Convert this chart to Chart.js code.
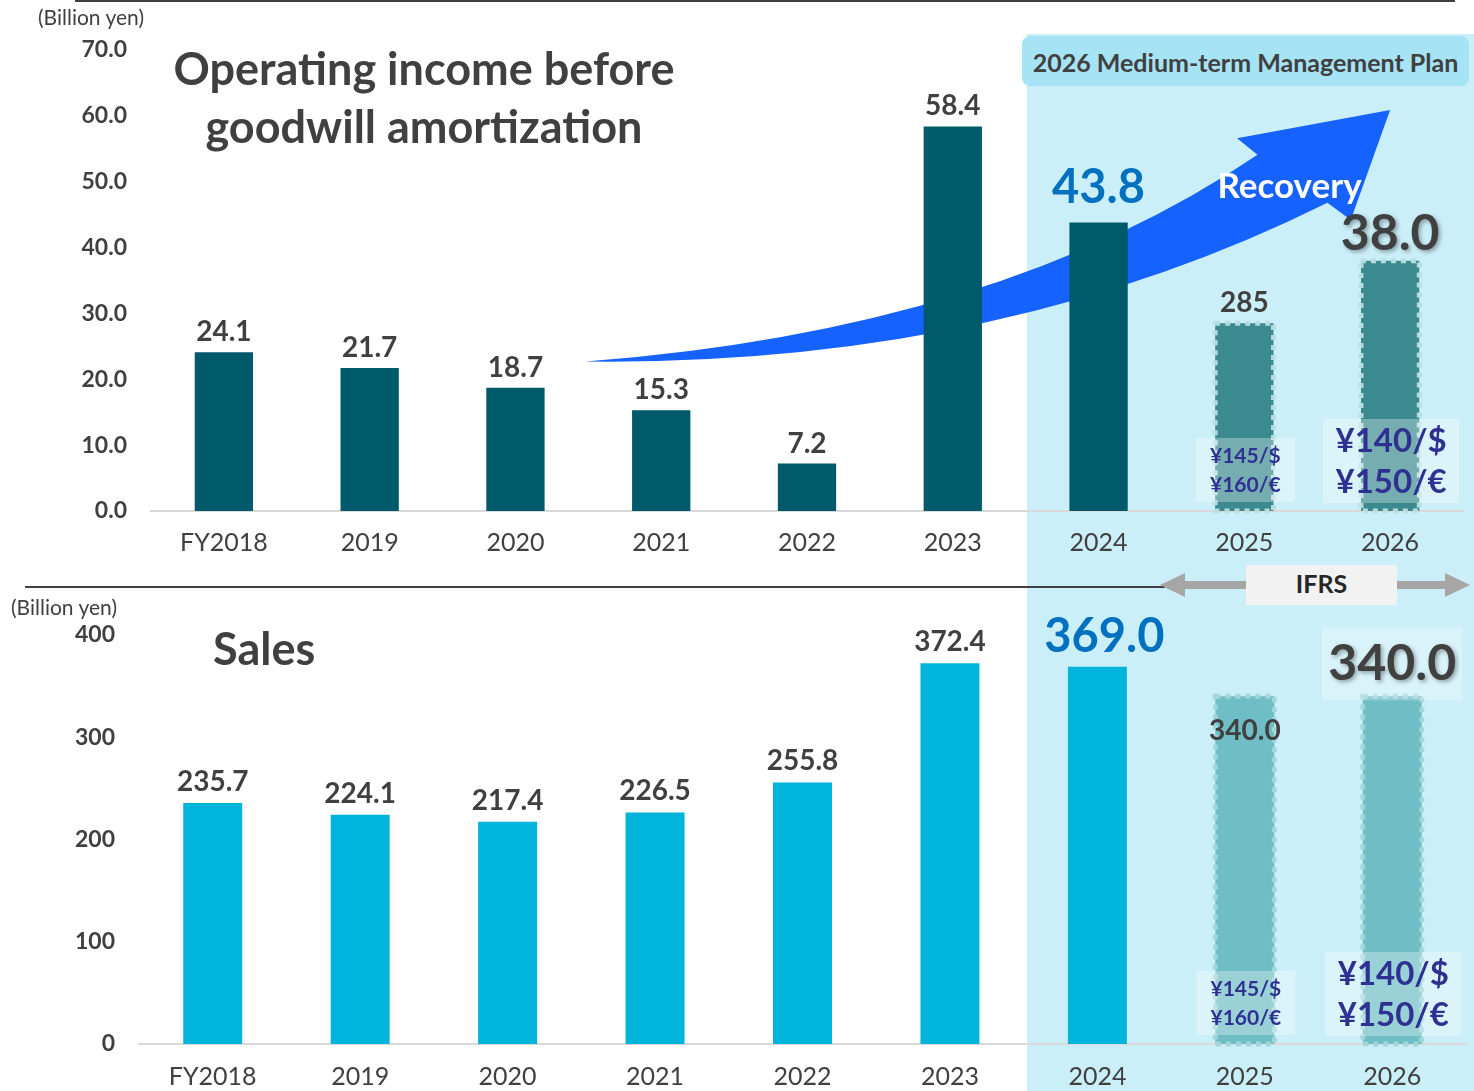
<!DOCTYPE html>
<html>
<head>
<meta charset="utf-8">
<script src="https://cdn.jsdelivr.net/npm/chart.js@4.4.1/dist/chart.umd.min.js"></script>
<style>
  body { margin: 0; width: 1474px; height: 1091px; overflow: hidden; background: #fff;
         font-family: Lato, sans-serif; color: #404040; position: relative; }
  .abs { position: absolute; }
  #planBg { left: 1027px; top: 34px; width: 447px; height: 1057px; background: #cbeff8; }
  #planHead { left: 1022px; top: 36px; width: 447px; height: 50px; background: #a5e3f5; border-radius: 8px;
              font-weight: bold; font-size: 25px; line-height: 52px; text-align: center; color: #404040; }
  .rule { background: #404040; height: 2px; }
  .unit { font-size: 21px; line-height: 22px; }
  .title { font-weight: bold; font-size: 45px; line-height: 58px; text-align: center; }
  canvas { position: absolute; left: 0; }
</style>
</head>
<body>
<div class="abs" id="planBg"></div>
<div class="abs rule" style="left:75px;top:0;width:1380px;"></div>
<div class="abs rule" style="left:25px;top:586px;width:1140px;"></div>

<canvas id="incomeChart" width="1474" height="570" style="top:0"></canvas>
<canvas id="salesChart" width="1474" height="501" style="top:590px"></canvas>

<div class="abs" id="planHead">2026 Medium-term Management Plan</div>
<div class="abs unit" style="left:38px;top:6px;">(Billion yen)</div>
<div class="abs unit" style="left:11px;top:596px;">(Billion yen)</div>
<div class="abs title" style="left:124px;top:39px;width:600px;">Operating income before<br>goodwill amortization</div>
<div class="abs title" style="left:213px;top:619px;text-align:left;">Sales</div>

<svg class="abs" style="left:1155px;top:565px;" width="319" height="40">
  <polygon points="5,20 30,8 30,16 290,16 290,8 315,20 290,32 290,24 30,24 30,32" fill="#a6a6a6"/>
  <rect x="91" y="-3" width="151" height="44" fill="#f2f2f2"/>
  <text x="166.5" y="28" text-anchor="middle" font-family="Lato" font-weight="bold" font-size="25" fill="#262626">IFRS</text>
</svg>

<script>
// ---- data ----
const years = ['FY2018', '2019', '2020', '2021', '2022', '2023', '2024', '2025', '2026'];
const incomeValues = [24.1, 21.7, 18.7, 15.3, 7.2, 58.4, 43.8, 28.5, 38.0];
const incomeLabels = ['24.1', '21.7', '18.7', '15.3', '7.2', '58.4', '43.8', '285', '38.0'];
const salesValues = [235.7, 224.1, 217.4, 226.5, 255.8, 372.4, 369.0, 340.0, 340.0];
const salesLabels = ['235.7', '224.1', '217.4', '226.5', '255.8', '372.4', '369.0', '340.0', '340.0'];
const incomeTicks = { min: 0, max: 70, step: 10 };
const salesTicks = { min: 0, max: 400, step: 100 };
const planStart = 7; // 2025 onward are plan figures
const rateLines = { 7: ['¥145/$', '¥160/€'], 8: ['¥140/$', '¥150/€'] };

const FONT = 'Lato';
const TEXT = '#404040';

// draws value labels, dotted borders of plan bars, and FX boxes
const barExtras = {
  id: 'barExtras',
  afterDatasetsDraw(chart, args, opts) {
    const ctx = chart.ctx;
    const bars = chart.getDatasetMeta(0).data;
    const bottom = chart.chartArea.bottom;
    bars.forEach((bar, i) => {
      const half = bar.width / 2;
      if (i >= planStart) {
        ctx.save();
        ctx.strokeStyle = opts.dotColor;
        ctx.lineWidth = 5;
        ctx.setLineDash([5, 5]);
        ctx.strokeRect(bar.x - half, bar.y, bar.width, bar.base - bar.y);
        ctx.restore();
        // FX rate box
        const big = i === 8;
        const w = big ? 136 : 99, h = big ? 84 : 64;
        const top = bottom - (big ? 8 : 9) - h;
        ctx.save();
        ctx.fillStyle = 'rgba(255,255,255,0.3)';
        ctx.fillRect(bar.x - w / 2 + 1, top, w, h);
        ctx.fillStyle = '#2e3192';
        ctx.font = `bold ${big ? 33 : 21}px ${FONT}`;
        ctx.textAlign = 'center';
        ctx.textBaseline = 'middle';
        const lines = rateLines[i];
        ctx.fillText(lines[0], bar.x + 1, top + (big ? 22 : 18));
        ctx.fillText(lines[1], bar.x + 1, top + (big ? 63 : 47));
        ctx.restore();
      }
      const s = opts.style(i);
      ctx.save();
      ctx.font = `bold ${s.size}px ${FONT}`;
      ctx.textAlign = 'center';
      ctx.textBaseline = 'middle';
      const ly = bar.y - s.offset;
      if (s.plate) {
        ctx.fillStyle = 'rgba(255,255,255,0.25)';
        ctx.fillRect(bar.x - 70, ly - 37, 140, 73);
      }
      if (s.shadow) {
        ctx.shadowColor = 'rgba(0,0,0,0.35)';
        ctx.shadowBlur = 4;
        ctx.shadowOffsetX = 2;
        ctx.shadowOffsetY = 2;
      }
      ctx.fillStyle = s.color;
      ctx.fillText(opts.labels[i], bar.x + (s.dx || 0), ly);
      ctx.restore();
    });
  }
};

// curved "Recovery" arrow, anchored in data space (index, value)
const recoveryArrow = {
  id: 'recoveryArrow',
  beforeDatasetsDraw(chart) {
    const { ctx, scales: { x, y } } = chart;
    const p = (i, v) => [x.getPixelForValue(i), y.getPixelForValue(v)];
    const tail = p(2.48, 22.7), upCtl = p(5.32, 27.5), notchUp = p(7.09, 54.1),
          barbUp = p(6.95, 56.6), tip = p(8.0, 60.9), barbLow = p(7.73, 44.2),
          notchLow = p(7.57, 46.8), lowCtl = p(5.32, 22.0);
    ctx.save();
    ctx.fillStyle = '#1662ff';
    ctx.beginPath();
    ctx.moveTo(...tail);
    ctx.quadraticCurveTo(...upCtl, ...notchUp);
    ctx.lineTo(...barbUp);
    ctx.lineTo(...tip);
    ctx.lineTo(...barbLow);
    ctx.lineTo(...notchLow);
    ctx.quadraticCurveTo(...lowCtl, ...tail);
    ctx.closePath();
    ctx.fill();
    ctx.fillStyle = '#ffffff';
    ctx.font = `bold 35px ${FONT}`;
    ctx.textAlign = 'center';
    ctx.textBaseline = 'middle';
    ctx.fillText('Recovery', ...p(7.31, 49.2));
    ctx.restore();
  }
};

function makeChart(id, values, labels, ticks, cfg) {
  return new Chart(document.getElementById(id), {
    type: 'bar',
    data: {
      labels: years,
      datasets: [{
        data: values,
        backgroundColor: c => c.dataIndex >= planStart ? cfg.planColor : cfg.color,
        borderWidth: 0,
        categoryPercentage: 1,
        barPercentage: 0.4
      }]
    },
    options: {
      responsive: false,
      animation: false,
      devicePixelRatio: 1,
      layout: { padding: { top: cfg.padTop, right: cfg.padRight, bottom: 0, left: 0 } },
      plugins: {
        legend: { display: false },
        tooltip: { enabled: false },
        barExtras: { labels: labels, style: cfg.style, dotColor: cfg.dotColor }
      },
      scales: {
        x: {
          grid: { display: false, drawTicks: false },
          border: { display: true, color: '#d9d9d9', width: 2 },
          ticks: { color: TEXT, font: { family: FONT, size: 25 }, padding: cfg.xPad, maxRotation: 0 },
          afterFit: s => { s.height = cfg.xHeight; }
        },
        y: {
          min: ticks.min, max: ticks.max,
          grid: { display: false, drawTicks: false },
          border: { display: false },
          ticks: {
            stepSize: ticks.step,
            color: TEXT,
            font: { family: FONT, size: 23, weight: 'bold' },
            padding: 24,
            callback: v => cfg.fmt(v)
          },
          afterFit: s => { s.width = cfg.yWidth; }
        }
      }
    },
    plugins: cfg.plugins
  });
}

makeChart('incomeChart', incomeValues, incomeLabels, incomeTicks, {
  color: '#005a69', planColor: '#3b8a90', dotColor: 'rgba(185,222,224,0.95)',
  padTop: 50, padRight: 11, xPad: 17, xHeight: 59, yWidth: 151,
  fmt: v => v.toFixed(1),
  plugins: [recoveryArrow, barExtras],
  style: i => {
    if (i === 6) return { size: 47, color: '#0070c0', offset: 35 };
    if (i === 8) return { size: 50, color: TEXT, offset: 27, shadow: true };
    return { size: 28, color: TEXT, offset: 20 };
  }
});

makeChart('salesChart', salesValues, salesLabels, salesTicks, {
  color: '#00b4dc', planColor: '#6fbec6', dotColor: 'rgba(160,214,218,0.95)',
  padTop: 45, padRight: 8, xPad: 18, xHeight: 47, yWidth: 139,
  fmt: v => String(v),
  plugins: [barExtras],
  style: i => {
    if (i === 6) return { size: 47, color: '#0070c0', offset: 30, dx: 7 };
    if (i === 7) return { size: 28, color: TEXT, offset: -35 };
    if (i === 8) return { size: 50, color: TEXT, offset: 32, shadow: true, plate: true };
    return { size: 28, color: TEXT, offset: 21 };
  }
});
</script>
</body>
</html>
